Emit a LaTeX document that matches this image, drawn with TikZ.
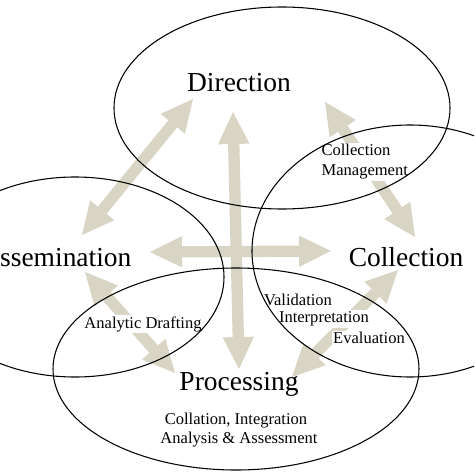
\documentclass[tikz,border=0pt]{standalone}
\usepackage{fontspec}
\setmainfont{Liberation Serif}
\usetikzlibrary{arrows.meta}

\definecolor{armbeige}{RGB}{217,213,197}

\tikzset{
  bigname/.style={font=\fontsize{20.6}{22}\selectfont, inner sep=1pt},
  smallname/.style={font=\fontsize{12.4}{15}\selectfont, inner sep=1pt},
  cutout/.style={smallname, fill=white},
  twoway/.style={draw=armbeige, line width=8.5pt,
    {Triangle[length=24pt,width=23.5pt,line width=0pt]}-{Triangle[length=24pt,width=23.5pt,line width=0pt]}},
  ring/.style={draw=black, line width=0.8pt}
}

\begin{document}
\begin{tikzpicture}[x=0.75pt,y=-0.75pt]
  \useasboundingbox (0,0) rectangle (474,474);
  \clip (0,0) rectangle (474,474);
  % arrow ends
  \coordinate (vtop) at (233,112);
  \coordinate (vbot) at (239,369);
  \coordinate (hleft) at (150,252);
  \coordinate (hright) at (331,251);
  \coordinate (dirsw) at (193,99);
  \coordinate (disne) at (82,235);
  \coordinate (dirse) at (325,102);
  \coordinate (colnw) at (415,237);
  \coordinate (disse) at (85,272);
  \coordinate (procnw) at (175,373);
  \coordinate (colsw) at (398,270);
  \coordinate (procne) at (292,377);
  % thick beige arrows
  \draw[twoway] (vtop) -- (vbot);
  \draw[twoway] (hleft) -- (hright);
  \draw[twoway] (dirsw) -- (disne);
  \draw[twoway] (dirse) -- (colnw);
  \draw[twoway] (disse) -- (procnw);
  \draw[twoway] (colsw) -- (procne);
  % the four stages
  \node[bigname] (dir) at (239,83) {Direction};
  \node[bigname,anchor=east] (dis) at (133,258) {Dissemination};
  \node[bigname] (col) at (406,257) {Collection};
  \node[bigname] (proc) at (239,384) {Processing};
  \node[smallname] (colint) at (236,421) {Collation, Integration};
  \node[smallname] (anaass) at (239,440) {Analysis \& Assessment};
  % labels on the arrows
  \node[cutout,align=left,anchor=west] (colman) at (320,162) {Collection\\Management};
  \node[cutout] (draft) at (143,324) {Analytic Drafting};
  \node[cutout] (valid) at (298,300) {Validation};
  \node[cutout] (interp) at (324,319) {Interpretation};
  \node[cutout] (evalu) at (369,338) {Evaluation};
  % the four ellipses
  \draw[ring] (282,108) ellipse [x radius=168, y radius=101];
  \draw[ring] (410,251) ellipse [x radius=158, y radius=126];
  \draw[ring] (75,277) ellipse [x radius=149, y radius=100];
  \draw[ring] (236,369) ellipse [x radius=183, y radius=101];
\end{tikzpicture}
\end{document}
